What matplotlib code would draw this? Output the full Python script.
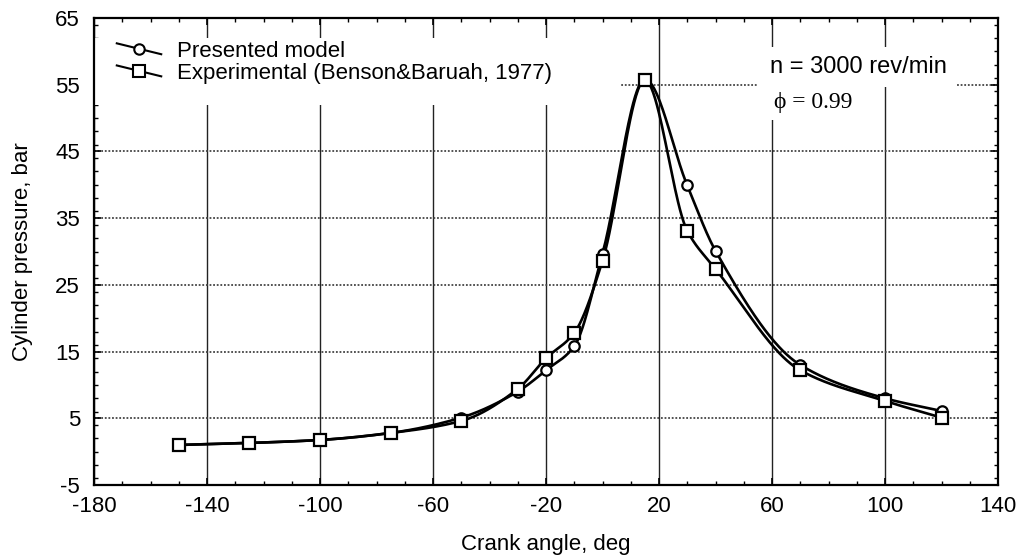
import numpy as np
import matplotlib
matplotlib.use("Agg")
import matplotlib.pyplot as plt
from matplotlib.patches import Rectangle
from matplotlib.legend_handler import HandlerLine2D
from matplotlib.ticker import MultipleLocator

# Datos ---------------------------------------------------------------------------------
angle = [-150, -125, -100, -75, -50, -30, -20, -10, 0, 15, 30, 40, 70, 100, 120]
p_model = [1.0, 1.3, 1.75, 2.8, 5.1, 9.0, 12.2, 15.8, 29.7, 55.8, 39.9, 30.1, 13.0, 8.0, 6.1]
p_exp = [1.0, 1.3, 1.75, 2.8, 4.6, 9.4, 14.0, 17.8, 28.6, 55.7, 33.1, 27.4, 12.2, 7.6, 5.1]

x_ticks = [-180, -140, -100, -60, -20, 20, 60, 100, 140]
y_ticks = [-5, 5, 15, 25, 35, 45, 55, 65]

plt.rcParams['font.family'] = ['Liberation Sans', 'DejaVu Sans']
plt.rcParams['axes.unicode_minus'] = False


def pchip(x, y, xs):
    # curva suave monotona (Fritsch-Carlson) solo para dibujar la linea
    x = np.asarray(x, float)
    y = np.asarray(y, float)
    h = np.diff(x)
    d = np.diff(y) / h
    m = np.zeros_like(y)
    for k in range(1, len(x) - 1):
        if d[k - 1] * d[k] > 0:
            w1 = 2 * h[k] + h[k - 1]
            w2 = h[k] + 2 * h[k - 1]
            m[k] = (w1 + w2) / (w1 / d[k - 1] + w2 / d[k])
    m[0] = d[0]
    m[-1] = d[-1]
    i = np.clip(np.searchsorted(x, xs) - 1, 0, len(h) - 1)
    t = (xs - x[i]) / h[i]
    h00 = 2 * t**3 - 3 * t**2 + 1
    h10 = t**3 - 2 * t**2 + t
    h01 = -2 * t**3 + 3 * t**2
    h11 = t**3 - t**2
    return h00 * y[i] + h10 * h[i] * m[i] + h01 * y[i + 1] + h11 * h[i] * m[i + 1]


class SlantHandler(HandlerLine2D):
    # linea inclinada en la leyenda, como en el original
    def create_artists(self, legend, orig_handle, xdescent, ydescent, width, height, fontsize, trans):
        arts = super().create_artists(legend, orig_handle, xdescent, ydescent, width, height, fontsize, trans)
        line = arts[0]
        mid = (height - ydescent) / 2
        n = len(line.get_xdata())
        line.set_ydata(np.linspace(mid + 0.35 * height, mid - 0.35 * height, n))
        return arts


fig = plt.figure(figsize=(10.19, 5.6), dpi=100)
ax = fig.add_axes([94 / 1019, 75 / 560, 904 / 1019, 467 / 560])

xs = np.linspace(angle[0], angle[-1], 800)
ax.plot(xs, pchip(angle, p_model, xs), color='black', lw=1.9, zorder=3)
ax.plot(xs, pchip(angle, p_exp, xs), color='black', lw=1.9, zorder=3)
ax.plot(angle, p_model, ls='none', marker='o', ms=7.5, mfc='white', mec='black', mew=1.6, zorder=4)
ax.plot(angle, p_exp, ls='none', marker='s', ms=8, mfc='white', mec='black', mew=1.6, zorder=5)

ax.set_xlim(-180, 140)
ax.set_ylim(-5, 65)
ax.set_xticks(x_ticks)
ax.set_yticks(y_ticks)
ax.xaxis.set_minor_locator(MultipleLocator(10))
ax.yaxis.set_minor_locator(MultipleLocator(2))
ax.tick_params(which='both', direction='in', top=True, right=True, labelsize=16)
ax.tick_params(which='major', length=5, width=1.2)
ax.tick_params(which='minor', length=3, width=1)
ax.tick_params(axis='x', pad=8)
ax.tick_params(axis='y', pad=10)

ax.set_axisbelow(True)
ax.xaxis.grid(True, color='#222222', lw=1.0, ls='-')
ax.yaxis.grid(True, color='#444444', lw=1.3, ls=(0, (1, 1)))
for s in ax.spines.values():
    s.set_linewidth(1.6)

ax.set_xlabel('Crank angle, deg', fontsize=16, labelpad=12)
ax.set_ylabel('Cylinder pressure, bar', fontsize=16, labelpad=16)

# fondos blancos de la leyenda y los textos
ax.add_patch(Rectangle((0, 0.814), 0.582, 0.143, transform=ax.transAxes,
                       facecolor='white', edgecolor='none', zorder=1))
ax.add_patch(Rectangle((0.7345, 0.852), 0.22, 0.086, transform=ax.transAxes,
                       facecolor='white', edgecolor='none', zorder=1))
ax.add_patch(Rectangle((0.7345, 0.782), 0.134, 0.07, transform=ax.transAxes,
                       facecolor='white', edgecolor='none', zorder=1))

h1, = ax.plot([], [], color='black', lw=1.5, marker='o', ms=7.5, mfc='white', mec='black', mew=1.5)
h2, = ax.plot([], [], color='black', lw=1.5, marker='s', ms=8, mfc='white', mec='black', mew=1.5)
ax.legend([h1, h2], ['Presented model', 'Experimental (Benson&Baruah, 1977)'],
          handler_map={h1: SlantHandler(), h2: SlantHandler()},
          loc='upper left', bbox_to_anchor=(0.008, 0.985), frameon=False, fontsize=16,
          handlelength=2.0, handletextpad=0.7, labelspacing=0.05, borderpad=0.2)

ax.text(0.748, 0.895, 'n = 3000 rev/min', transform=ax.transAxes, fontsize=17,
        ha='left', va='center', zorder=6)
ax.text(0.752, 0.818, '\u03d5 = 0.99', transform=ax.transAxes, fontsize=17,
        family=['Liberation Serif', 'DejaVu Serif'], ha='left', va='center', zorder=6)

fig.savefig('out.png', dpi=100)
